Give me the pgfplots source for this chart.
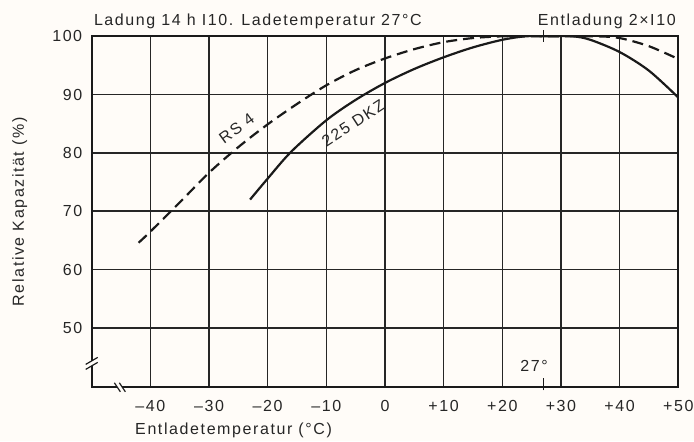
\documentclass[border=0pt]{standalone}
\usepackage{fontspec}
\setmainfont{Liberation Sans}[LetterSpace=10]
\usepackage{pgfplots}
\pgfplotsset{compat=1.18}
\definecolor{bg}{HTML}{FFFCF8}
\definecolor{ink}{HTML}{1A1A1A}
\definecolor{gridc}{HTML}{262626}
\definecolor{txt}{HTML}{262626}

\begin{document}
\fontsize{16bp}{19bp}\selectfont
\begin{tikzpicture}
\fill[bg] (-91.7bp,-54bp) rectangle (602.3bp,387.3bp);
\begin{axis}[
  width=586.6bp, height=351bp, scale only axis,
  xmin=-50, xmax=50, ymin=39.8, ymax=100,
  clip mode=individual,
  axis line style={line width=1.7pt, draw=ink},
  xtick={-40,-30,-20,-10,0,10,20,30,40,50},
  xticklabels={--40,--30,--20,--10,0,+10,+20,+30,+40,+50},
  ytick={50,60,70,80,90,100},
  yticklabels={50,60,70,80,90,100},
  major tick length=0pt,
  xmajorgrids, ymajorgrids,
  major grid style={line width=1.6pt, draw=gridc},
  tick label style={text=txt},
  xticklabel style={yshift=-7bp},
  yticklabel style={xshift=-4bp},
  xlabel={Entladetemperatur (°C)},
  xlabel style={at={(axis description cs:0.0648,-0.1225)}, anchor=west, text=txt},
  ylabel={Relative Kapazität (\%)},
  ylabel style={at={(axis description cs:-0.1227,0.5)}, anchor=center, text=txt},
]
% RS 4 (dashed)
\addplot[ink, line width=2.2pt, dash pattern=on 11bp off 6bp, smooth, tension=0.5] coordinates {
  (-42,64.6) (-40,66.5) (-35,71.5) (-30,76.6) (-25,81.0) (-20,84.9) (-15,88.4)
  (-10,91.6) (-5,94.2) (0,96.2) (5,97.8) (10,99.0) (15,99.7) (20,100) (25,100)
  (30,100) (36,100) (40,99.7) (45,98.3) (50,96.1)
};
% 225 DKZ (solid)
\addplot[ink, line width=2.2pt, smooth, tension=0.5] coordinates {
  (-23,72.0) (-20,75.6) (-16,80.2) (-10,85.6) (-5,89.1) (0,92.0) (5,94.4)
  (10,96.4) (15,98.1) (20,99.4) (24,100) (28,100) (32,100) (35,99.4)
  (40,97.3) (45,94.1) (50,89.5)
};
% 27 degree ticks and label
\draw[line width=1.3pt, ink] (axis cs:27,39.8) ++(0pt,-3bp) -- ++(0pt,12bp);
\draw[line width=1.3pt, ink] (axis cs:27,100) ++(0pt,-5.5bp) -- ++(0pt,12bp);
\node[text=txt] at (axis cs:25.4,43.4) {27°};
% axis breaks
\fill[bg] (axis cs:-50,43.9) ++(-3bp,-2.5bp) rectangle ++(6bp,5bp);
\draw[line width=1.2pt, ink] (axis cs:-50,43.9) ++(-6bp,-6bp) -- ++(12bp,7bp);
\draw[line width=1.2pt, ink] (axis cs:-50,43.9) ++(-6bp,-1bp) -- ++(12bp,7bp);
\fill[bg] (axis cs:-45.2,39.8) ++(-2.5bp,-3bp) rectangle ++(5bp,6bp);
\draw[line width=1.2pt, ink] (axis cs:-45.2,39.8) ++(-5.5bp,4.5bp) -- ++(6bp,-9bp);
\draw[line width=1.2pt, ink] (axis cs:-45.2,39.8) ++(-0.5bp,4.5bp) -- ++(6bp,-9bp);
% curve labels
\node[rotate=36, text=txt] at (axis cs:-25.3,84.2) {RS 4};
\node[rotate=33, text=txt] at (axis cs:-5.4,85.1) {225 DKZ};
% titles
\node[anchor=west, text=txt] at (axis description cs:-0.0055,1.0436) {Ladung 14 h I10. Ladetemperatur 27°C};
\node[anchor=east, text=txt] at (axis description cs:1.005,1.0436) {Entladung 2×I10};
\end{axis}
\pgfresetboundingbox
\path[use as bounding box] (-91.7bp,-54bp) rectangle (602.3bp,387.3bp);
\end{tikzpicture}
\end{document}
